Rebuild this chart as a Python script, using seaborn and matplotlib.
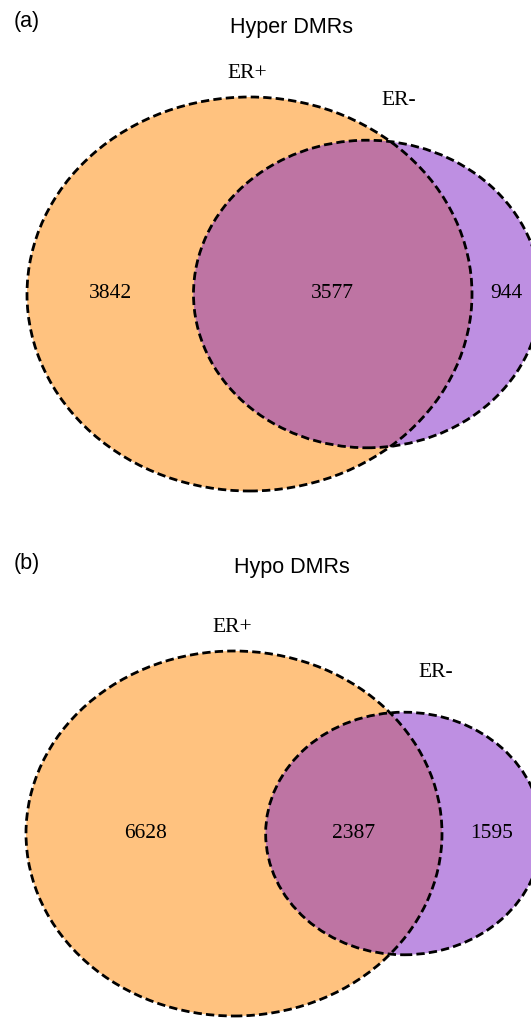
import numpy as np
import matplotlib
matplotlib.use("Agg")
import matplotlib.pyplot as plt
import matplotlib.transforms as mtransforms
from matplotlib.patches import Circle
import seaborn as sns

# ---- data ----
panels = ["(a)", "(b)"]
titles = ["Hyper DMRs", "Hypo DMRs"]
set_names = ["ER+", "ER-"]
only_plus = [3842, 6628]
overlap = [3577, 2387]
only_minus = [944, 1595]

color_plus = "#FFC27F"
color_minus = "#BE8FE2"
color_both = "#BE74A3"

sns.set_theme(style="white")
plt.rcParams["font.family"] = ["Liberation Sans", "DejaVu Sans"]
plt.rcParams["text.color"] = "black"

W, H = 531, 1018
DPI = 100
fig = plt.figure(figsize=(W / DPI, H / DPI), dpi=DPI)


def lens_area(r1, r2, d):
    a = r1 ** 2 * np.arccos(np.clip((d * d + r1 * r1 - r2 * r2) / (2 * d * r1), -1, 1))
    b = r2 ** 2 * np.arccos(np.clip((d * d + r2 * r2 - r1 * r1) / (2 * d * r2), -1, 1))
    c = 0.5 * np.sqrt(max((-d + r1 + r2) * (d + r1 - r2) * (d - r1 + r2) * (d + r1 + r2), 0))
    return a + b - c


def solve_d(r1, r2, target):
    lo, hi = abs(r1 - r2) + 1e-9, r1 + r2
    for _ in range(200):
        mid = 0.5 * (lo + hi)
        if lens_area(r1, r2, mid) > target:
            lo = mid
        else:
            hi = mid
    return 0.5 * (lo + hi)


# layout (pixels): centre of ER+ circle, horizontal / vertical radius in px, axes top/bottom
layouts = [
    dict(cx=249.5, cy=294.0, hr=222.5, vr=197.0, top=85, bottom=505, title_y=27, tag_y=22),
    dict(cx=234.0, cy=833.5, hr=208.0, vr=182.5, top=600, bottom=1018, title_y=568, tag_y=563),
]

ls = (0, (3.0, 1.5))

for i in range(2):
    L = layouts[i]
    a_tot = only_plus[i] + overlap[i]
    b_tot = only_minus[i] + overlap[i]
    r1 = np.sqrt(a_tot / np.pi)
    r2 = np.sqrt(b_tot / np.pi)
    d = solve_d(r1, r2, overlap[i])
    sx = L["hr"] / r1
    sy = L["vr"] / r1

    ax = fig.add_axes([0, 1 - L["bottom"] / H, 1, (L["bottom"] - L["top"]) / H])
    ax.set_xlim(-L["cx"] / sx, (W - L["cx"]) / sx)
    ax.set_ylim(-(L["bottom"] - L["cy"]) / sy, (L["cy"] - L["top"]) / sy)
    ax.set_aspect("auto")
    ax.axis("off")

    cA = Circle((0, 0), r1, facecolor=color_plus, edgecolor="none", zorder=1)
    cB = Circle((d, 0), r2, facecolor=color_minus, edgecolor="none", zorder=1)
    ax.add_patch(cA)
    ax.add_patch(cB)
    clipA = Circle((0, 0), r1, transform=ax.transData)
    cAB = Circle((d, 0), r2, facecolor=color_both, edgecolor="none", zorder=2)
    ax.add_patch(cAB)
    cAB.set_clip_path(clipA)
    for c, r in [((0, 0), r1), ((d, 0), r2)]:
        ax.add_patch(Circle(c, r, facecolor="none", edgecolor="black", lw=2.0,
                            linestyle=ls, zorder=3))

    serif = ["Liberation Serif", "DejaVu Serif"]
    fs = 15.5
    # region labels at midpoints of region extents along centre line
    xs = [(-r1 + (d - r2)) / 2, ((d - r2) + r1) / 2, (r1 + (d + r2)) / 2]
    vals = [only_plus[i], overlap[i], only_minus[i]]
    for x, v in zip(xs, vals):
        ax.text(x, 0, str(v), ha="center", va="center", fontsize=fs, family=serif,
                color="black", zorder=4)

    # set labels
    tA = mtransforms.offset_copy(ax.transData, fig=fig, x=-2, y=24, units="dots")
    ax.text(0, r1, set_names[0], transform=tA, ha="center", va="center",
            fontsize=fs, family=serif, color="black", clip_on=False)
    tB = mtransforms.offset_copy(ax.transData, fig=fig, x=32, y=40, units="dots")
    ax.text(d, r2, set_names[1], transform=tB, ha="center", va="center",
            fontsize=fs, family=serif, color="black", clip_on=False)

    fig.text(292 / W, 1 - L["title_y"] / H, titles[i], ha="center", va="center",
             fontsize=fs, color="black")
    fig.text(27 / W, 1 - L["tag_y"] / H, panels[i], ha="center", va="center",
             fontsize=fs, color="black")

fig.savefig("out.png", dpi=DPI)
